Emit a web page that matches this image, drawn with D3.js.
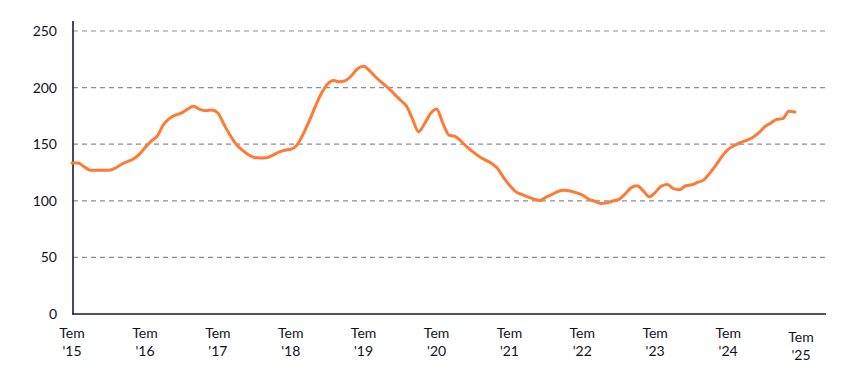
<!DOCTYPE html>
<html>
<head>
<meta charset="utf-8">
<script src="https://cdn.jsdelivr.net/npm/d3@7"></script>
<style>
  html, body { margin: 0; padding: 0; background: #ffffff; }
  svg { display: block; }
  text { font-family: Lato, "Open Sans", sans-serif; }
</style>
</head>
<body>
<svg id="chart" width="860" height="382"></svg>
<script>
// Monthly values, July 2015 – June 2025
const startYear = 2015;
const startMonth = 6; // July (0-based)
const values = [
  133.5, 133.3, 130.0, 127.0, 127.0, 127.0, 127.0, 128.6, 131.9, 134.5, 136.7, 140.8,
  147.0, 152.7, 157.3, 167.2, 172.8, 175.7, 177.7, 181.2, 183.5, 180.8, 179.6, 180.2,
  177.6, 167.4, 157.7, 149.9, 144.7, 140.7, 138.3, 137.9, 138.0, 140.2, 142.9, 144.7,
  145.5, 149.2, 158.7, 170.2, 183.2, 194.6, 202.9, 206.2, 205.1, 206.2, 210.5, 216.7,
  218.8, 214.8, 209.1, 204.3, 199.8, 194.5, 189.0, 183.7, 172.8, 161.0, 167.9, 177.2,
  181.2, 168.7, 158.1, 157.0, 152.6, 147.4, 143.0, 138.9, 136.2, 133.2, 128.9, 120.8,
  113.8, 108.1, 105.6, 103.4, 101.5, 100.3, 103.2, 105.8, 108.2, 109.3, 108.7, 107.1,
  105.1, 101.6, 99.6, 97.6, 98.2, 99.8, 101.3, 106.1, 111.3, 113.2, 109.3, 103.6,
  107.3, 113.0, 114.3, 110.7, 109.8, 113.3, 114.2, 116.4, 118.5, 124.7, 131.6, 139.5,
  145.4, 148.8, 151.5, 153.4, 156.0, 160.0, 165.5, 168.8, 171.9, 172.6, 179.0, 178.4
];
const yTicks = [0, 50, 100, 150, 200, 250];
const xTickYears = [2015, 2016, 2017, 2018, 2019, 2020, 2021, 2022, 2023, 2024, 2025];
const xTickPrefix = "Tem";

const data = values.map((v, i) => ({ date: new Date(startYear, startMonth + i, 1), value: v }));

const svg = d3.select("#chart");
const plotLeft = 73, plotRight = 826, plotTop = 31, plotBottom = 314;

const x = d3.scaleTime()
  .domain([new Date(2015, 6, 1), new Date(2025, 6, 1)])
  .range([72, 801]);
const y = d3.scaleLinear().domain([0, 250]).range([plotBottom, plotTop]);

// gridlines
svg.append("g")
  .selectAll("line")
  .data(yTicks.filter(d => d > 0))
  .join("line")
  .attr("x1", plotLeft).attr("x2", plotRight)
  .attr("y1", d => y(d)).attr("y2", d => y(d))
  .attr("stroke", "#8c8c9c")
  .attr("stroke-width", 1.2)
  .attr("stroke-dasharray", "5,4");

// y labels
svg.append("g")
  .selectAll("text")
  .data(yTicks)
  .join("text")
  .attr("x", 57)
  .attr("y", d => y(d))
  .attr("dy", "0.35em")
  .attr("text-anchor", "end")
  .attr("font-size", 14)
  .attr("fill", "#111122")
  .text(d => d);

// x labels
const xl = svg.append("g")
  .selectAll("text")
  .data(xTickYears)
  .join("text")
  .attr("text-anchor", "middle")
  .attr("font-size", 14)
  .attr("fill", "#111122")
  .attr("transform", (d, i) => `translate(${x(new Date(d, 6, 1))},${i === xTickYears.length - 1 ? 4 : 0})`);
xl.append("tspan").attr("x", 0).attr("y", 338).text(xTickPrefix);
xl.append("tspan").attr("x", 0).attr("y", 356).text(d => "'" + String(d).slice(2));

// axes lines
svg.append("line")
  .attr("x1", plotLeft).attr("x2", plotLeft).attr("y1", 21).attr("y2", plotBottom + 0.5)
  .attr("stroke", "#141a40").attr("stroke-width", 1.6);
svg.append("line")
  .attr("x1", plotLeft - 0.8).attr("x2", plotRight).attr("y1", plotBottom).attr("y2", plotBottom)
  .attr("stroke", "#141a40").attr("stroke-width", 1.6);

// line
const line = d3.line()
  .x(d => x(d.date))
  .y(d => y(d.value))
  .curve(d3.curveMonotoneX);
svg.append("path")
  .datum(data)
  .attr("fill", "none")
  .attr("stroke", "#ff7a35")
  .attr("stroke-width", 3)
  .attr("stroke-linejoin", "round")
  .attr("stroke-linecap", "round")
  .attr("d", line);
</script>
</body>
</html>
